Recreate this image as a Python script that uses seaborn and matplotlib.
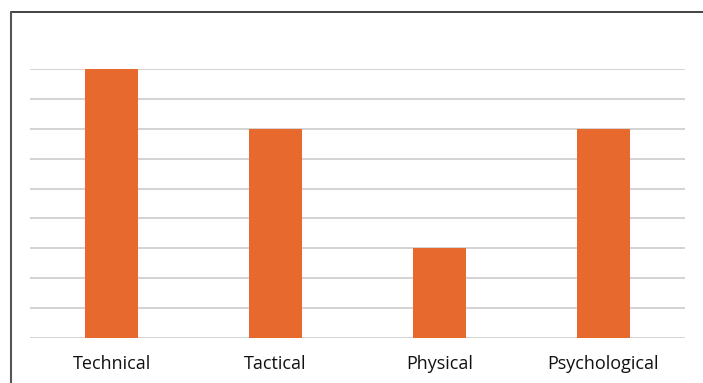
import matplotlib
matplotlib.use("Agg")
import matplotlib.pyplot as plt
import seaborn as sns
import pandas as pd
from matplotlib.lines import Line2D

categories = ["Technical", "Tactical", "Physical", "Psychological"]
values = [9, 7, 3, 7]

df = pd.DataFrame({"Category": categories, "Value": values})

sns.set_style("white")
plt.rcParams["font.family"] = ["Open Sans", "DejaVu Sans"]

fig = plt.figure(figsize=(7.03, 3.83), dpi=100)
ax = fig.add_axes([30 / 703, 45 / 383, 655 / 703, 269 / 383])

sns.barplot(data=df, x="Category", y="Value", color="#E8692D", width=0.325,
            saturation=1, linewidth=0, ax=ax, zorder=3)

ax.set_ylim(0, 9)
ax.set_yticks(range(0, 10))
ax.yaxis.grid(True, color="#d0d0d0", linewidth=1.3)
ax.set_axisbelow(True)
ax.set_yticklabels([])
ax.tick_params(axis="y", length=0)
ax.tick_params(axis="x", length=0, labelsize=13, pad=12, colors="#111111")
ax.set_xlabel("")
ax.set_ylabel("")
for s in ax.spines.values():
    s.set_visible(False)

# outer frame (top and left edges visible)
fig.add_artist(Line2D([10.5 / 703, 1], [1 - 11.5 / 383, 1 - 11.5 / 383],
                      transform=fig.transFigure, color="#222222", linewidth=1.2))
fig.add_artist(Line2D([10.5 / 703, 10.5 / 703], [0, 1 - 11.5 / 383],
                      transform=fig.transFigure, color="#555555", linewidth=1.5))

fig.savefig("out.png", dpi=100)
